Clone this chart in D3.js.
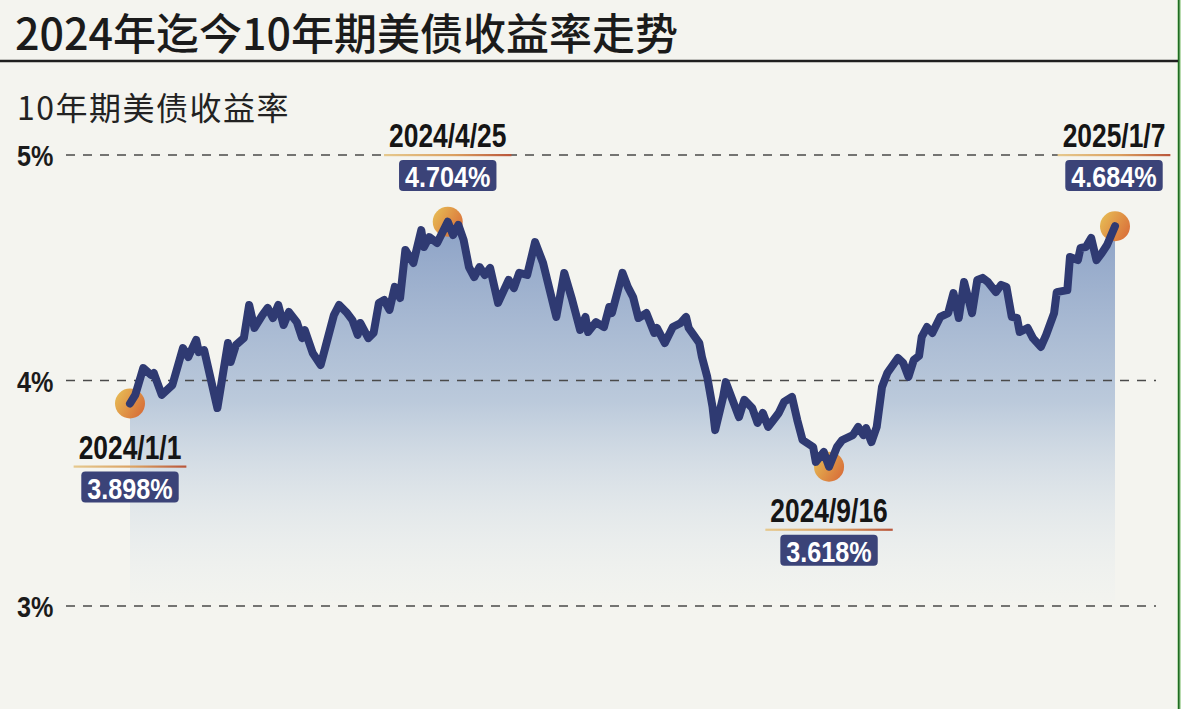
<!DOCTYPE html>
<html>
<head>
<meta charset="utf-8">
<script src="https://cdn.jsdelivr.net/npm/d3@7"></script>
<style>
  html, body { margin: 0; padding: 0; background: #f4f4ef; overflow: hidden; }
  svg { display: block; }
</style>
</head>
<body>
<svg id="chart" width="1181" height="709"></svg>
<script>
// ---- data ----
const titleText = "2024年迄今10年期美债收益率走势";
const subtitleText = "10年期美债收益率";
const startDate = new Date(2024, 0, 1);
const endDate = new Date(2025, 0, 7);
// day offsets from 2024-01-01
const dayOffsets = [0,2,5,8,9,12,16,20,22,25,26,28,33,37,38,40,43,45,47,50,52,54,56,58,60,63,65,66,69,72,74,77,79,82,84,86,87,90,92,94,96,98,100,102,104,107,110,111,113,116,120,122,124,126,128,130,132,134,136,139,143,145,147,150,153,156,161,164,167,170,172,173,176,179,181,182,186,188,190,192,195,198,199,202,205,208,210,211,215,216,218,220,221,224,225,228,230,232,235,237,239,241,243,245,247,250,252,254,258,259,262,264,267,269,273,275,277,278,280,282,284,286,290,292,294,296,298,299,301,303,306,309,311,313,315,318,320,322,324,327,329,331,333,335,336,339,341,344,346,349,350,354,355,358,359,361,363,365,367,369,372];
const yields = [3.898,3.936,4.055,4.024,4.033,3.936,3.980,4.144,4.104,4.180,
4.126,4.135,3.878,4.166,4.082,4.157,4.188,4.335,4.233,4.290,
4.322,4.277,4.335,4.246,4.304,4.259,4.188,4.224,4.122,4.069,
4.157,4.290,4.335,4.299,4.268,4.202,4.255,4.188,4.211,4.344,
4.357,4.313,4.415,4.366,4.579,4.521,4.667,4.592,4.636,4.610,
4.704,4.645,4.690,4.623,4.503,4.459,4.503,4.468,4.499,4.344,
4.446,4.410,4.477,4.468,4.614,4.521,4.282,4.477,4.357,4.224,
4.282,4.215,4.259,4.237,4.326,4.299,4.477,4.415,4.370,4.277,
4.299,4.211,4.233,4.166,4.237,4.255,4.282,4.233,4.166,4.104,
4.016,3.883,3.780,3.927,3.993,3.900,3.838,3.914,3.878,3.812,
3.856,3.794,3.825,3.856,3.905,3.927,3.825,3.736,3.705,3.639,
3.683,3.618,3.705,3.736,3.758,3.794,3.758,3.789,3.727,3.794,
3.971,4.033,4.100,4.078,4.016,4.091,4.109,4.193,4.237,4.211,
4.282,4.299,4.388,4.277,4.437,4.299,4.446,4.455,4.437,4.392,
4.424,4.415,4.282,4.277,4.215,4.233,4.188,4.149,4.202,4.299,
4.392,4.401,4.548,4.534,4.588,4.592,4.632,4.534,4.565,4.601,
4.684];
const yTicks = [3, 4, 5];
const yTickLabels = ["3%", "4%", "5%"];
const annLabels = ["2024/1/1", "2024/4/25", "2024/9/16", "2025/1/7"];
const annValues = [3.898, 4.704, 3.618, 4.684];
const annDays = [0, 120, 264, 372];
const annSide = ["below", "above", "below", "above"];

// ---- setup ----
const W = 1181, H = 709;
const svg = d3.select("#chart");
const series = dayOffsets.map((d, i) => ({ date: d3.timeDay.offset(startDate, d), v: yields[i] }));

const x = d3.scaleTime().domain([startDate, endDate]).range([130, 1115]);
const y = d3.scaleLinear().domain([3, 5]).range([606, 155]);

// horizontally condensed text (no narrow font installed): drawn in a scaled group
function narrowText(parent, px, py, f, anchor, size, fill, str) {
  const g = parent.append("g").attr("transform", `translate(${px},${py}) scale(${f},1)`);
  const t = g.append("text").attr("x", 0).attr("y", 0).attr("text-anchor", anchor)
    .attr("font-family", "'Liberation Sans', Arial, sans-serif")
    .attr("font-weight", 700).attr("font-size", size).attr("fill", fill).text(str);
  return t.node().getComputedTextLength() * f;
}

const defs = svg.append("defs");
const areaGrad = defs.append("linearGradient").attr("id", "areaGrad")
  .attr("gradientUnits", "userSpaceOnUse").attr("x1", 0).attr("x2", 0).attr("y1", 215).attr("y2", 630);
areaGrad.append("stop").attr("offset", "0%").attr("stop-color", "#8aa0c5").attr("stop-opacity", 1);
areaGrad.append("stop").attr("offset", "45%").attr("stop-color", "#b5c5d9").attr("stop-opacity", 0.9);
areaGrad.append("stop").attr("offset", "100%").attr("stop-color", "#eef3f3").attr("stop-opacity", 0);

const dotGrad = defs.append("linearGradient").attr("id", "dotGrad")
  .attr("x1", "0%").attr("x2", "100%").attr("y1", "20%").attr("y2", "80%");
dotGrad.append("stop").attr("offset", "0%").attr("stop-color", "#e6b84c");
dotGrad.append("stop").attr("offset", "100%").attr("stop-color", "#d8662f");

const ulGrad = defs.append("linearGradient").attr("id", "ulGrad")
  .attr("x1", "0%").attr("x2", "100%").attr("y1", "0%").attr("y2", "0%");
ulGrad.append("stop").attr("offset", "0%").attr("stop-color", "#e6c98e");
ulGrad.append("stop").attr("offset", "55%").attr("stop-color", "#dba060");
ulGrad.append("stop").attr("offset", "100%").attr("stop-color", "#b9553a");

// background
svg.append("rect").attr("width", W).attr("height", H).attr("fill", "#f4f4ef");
// right edge green border
svg.append("rect").attr("x", 1177).attr("y", 0).attr("width", 4).attr("height", H).attr("fill", "#b9dcb0");
svg.append("rect").attr("x", 1178).attr("y", 0).attr("width", 1.6).attr("height", H).attr("fill", "#1f6b22");

// title
svg.append("text").attr("x", 15).attr("y", 50)
  .attr("font-family", "'Noto Sans CJK SC', sans-serif").attr("font-weight", 500)
  .attr("font-size", 43).attr("fill", "#1b1b1b").text(titleText);
svg.append("line").attr("x1", 0).attr("x2", 1178).attr("y1", 61).attr("y2", 61)
  .attr("stroke", "#1f1f1f").attr("stroke-width", 2.6);

// subtitle
svg.append("text").attr("x", 17).attr("y", 120)
  .attr("font-family", "'Noto Sans CJK SC', sans-serif").attr("font-weight", 400)
  .attr("font-size", 32).attr("letter-spacing", 1.5).attr("fill", "#222").text(subtitleText);

// area
const area = d3.area().x(d => x(d.date)).y0(y(3.02)).y1(d => y(d.v));
svg.append("path").datum(series).attr("d", area).attr("fill", "url(#areaGrad)");

// grid lines + y labels
const grid = svg.append("g");
yTicks.forEach((t, i) => {
  grid.append("line").attr("x1", 66).attr("x2", 1156).attr("y1", y(t)).attr("y2", y(t))
    .attr("stroke", "#4a4a4a").attr("stroke-width", 1.3).attr("stroke-dasharray", "9,8");
  narrowText(grid, 17, y(t) + 11, 0.84, "start", 30, "#1b1b1b", yTickLabels[i]);
});

// markers (under line)
const anns = annLabels.map((l, i) => ({ label: l, v: annValues[i], date: d3.timeDay.offset(startDate, annDays[i]), side: annSide[i] }));
svg.append("g").selectAll("circle").data(anns).join("circle")
  .attr("cx", d => x(d.date)).attr("cy", d => y(d.v)).attr("r", 15)
  .attr("fill", "url(#dotGrad)").attr("opacity", 0.95);

// line
const line = d3.line().x(d => x(d.date)).y(d => y(d.v));
svg.append("path").datum(series).attr("d", line).attr("fill", "none")
  .attr("stroke", "#2f3a72").attr("stroke-width", 8)
  .attr("stroke-linejoin", "round").attr("stroke-linecap", "round");

// annotations
const ag = svg.append("g");
anns.forEach(a => {
  const cx = Math.min(x(a.date), 1114);
  const base = a.side === "above" ? y(5) - 8 : y(a.v) + 55;
  const w = narrowText(ag, cx, base, 0.8, "middle", 33, "#151515", a.label);
  ag.append("rect").attr("x", cx - w / 2 - 5).attr("y", base + 7).attr("width", w + 10).attr("height", 2.2)
    .attr("fill", "url(#ulGrad)");
  const box = ag.append("rect").attr("y", base + 13).attr("height", 31).attr("rx", 4).attr("fill", "#3b4378");
  const vw = narrowText(ag, cx, base + 40, 0.84, "middle", 30, "#ffffff", a.v.toFixed(3) + "%");
  box.attr("x", cx - vw / 2 - 6).attr("width", vw + 12);
});
</script>
</body>
</html>
